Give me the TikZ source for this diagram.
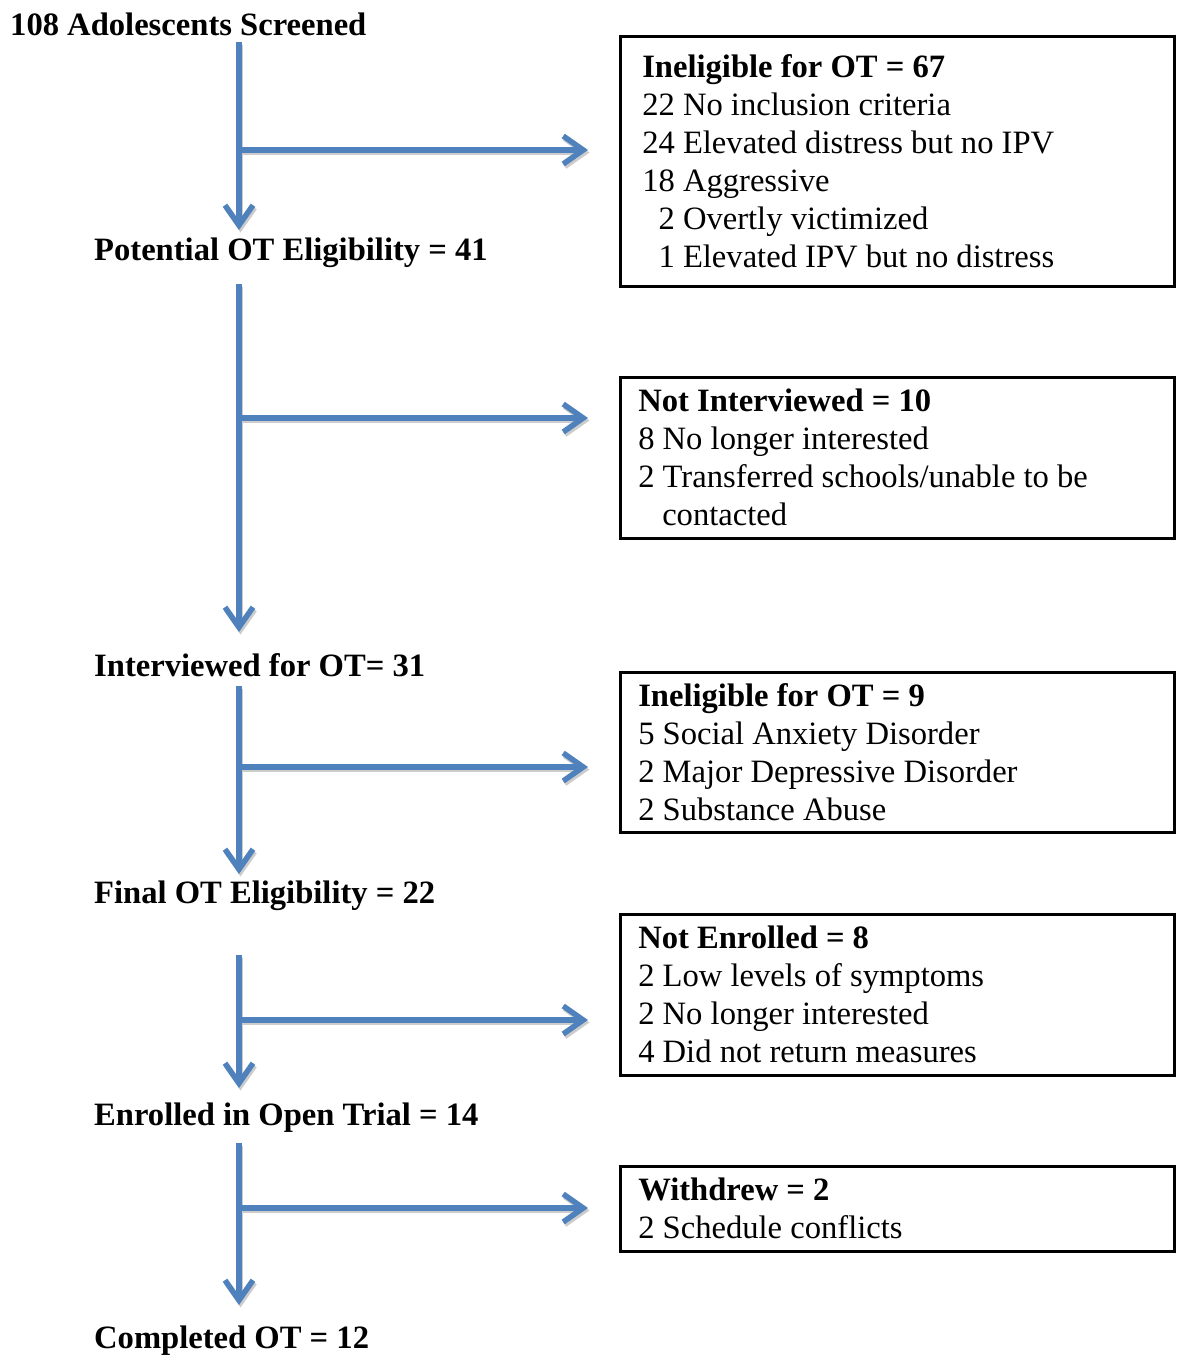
\documentclass[tikz,border=0pt]{standalone}
\usepackage{fontspec}
\setmainfont{Liberation Serif}
\usetikzlibrary{arrows.meta}
\definecolor{flowblue}{HTML}{4F81BD}
\begin{document}
\begin{tikzpicture}[x=1pt,y=-1pt,
  lbl/.style={font=\fontsize{32.6}{38}\selectfont\bfseries, inner sep=0pt, anchor=base west},
  infobox/.style={draw=black, line width=2.5pt, anchor=north west, align=flush left,
    font=\fontsize{32.6}{38}\selectfont, minimum width=554pt, inner xsep=18pt,
    text width=518pt, inner ysep=0pt},
  flow/.style={draw=flowblue, line width=5.5pt, -{Straight Barb[length=20pt,width=28pt]}},
  shade/.style={draw=black!20, line width=5.5pt, -{Straight Barb[length=20pt,width=28pt]},
    transform canvas={shift={(1.5pt,-2.5pt)}}}
]
\useasboundingbox (0,0) rectangle (1176,1355);

% labels
\node[lbl] (l1) at (10,35) {108 Adolescents Screened};
\node[lbl] (l2) at (94,260) {Potential OT Eligibility = 41};
\node[lbl] (l3) at (94,676) {Interviewed for OT= 31};
\node[lbl] (l4) at (94,903) {Final OT Eligibility = 22};
\node[lbl] (l5) at (94,1125) {Enrolled in Open Trial = 14};
\node[lbl] (l6) at (94,1348) {Completed OT = 12};

% boxes
\node[infobox, inner xsep=22pt, text width=510pt, minimum height=250pt] (b1) at (619,35)
  {\textbf{Ineligible for OT = 67}\\
   22 No inclusion criteria\\
   24 Elevated distress but no IPV\\
   18 Aggressive\\
   \phantom{1}2 Overtly victimized\\
   \phantom{1}1 Elevated IPV but no distress};
\node[infobox, minimum height=161pt] (b2) at (619,376)
  {\textbf{Not Interviewed = 10}\\
   8 No longer interested\\
   2 Transferred schools/unable to be\\
   \hspace*{24pt}contacted};
\node[infobox, minimum height=160pt] (b3) at (619,671)
  {\textbf{Ineligible for OT = 9}\\
   5 Social Anxiety Disorder\\
   2 Major Depressive Disorder\\
   2 Substance Abuse};
\node[infobox, minimum height=161pt] (b4) at (619,913)
  {\textbf{Not Enrolled = 8}\\
   2 Low levels of symptoms\\
   2 No longer interested\\
   4 Did not return measures};
\node[infobox, minimum height=85pt] (b5) at (619,1165)
  {\textbf{Withdrew = 2}\\
   2 Schedule conflicts};

% connector coordinates
\coordinate (v1s) at (239,42);   \coordinate (v1e) at (239,230);  \coordinate (h1) at (239,150);
\coordinate (v2s) at (239,284);  \coordinate (v2e) at (239,632);  \coordinate (h2) at (239,418);
\coordinate (v3s) at (239,686);  \coordinate (v3e) at (239,874);  \coordinate (h3) at (239,767);
\coordinate (v4s) at (239,955);  \coordinate (v4e) at (239,1088); \coordinate (h4) at (239,1020);
\coordinate (v5s) at (239,1143); \coordinate (v5e) at (239,1305); \coordinate (h5) at (239,1208);

\foreach \i in {1,...,5}{
  \draw[shade] (v\i s) -- (v\i e);
  \draw[shade, shorten >=31pt] (h\i) -- (h\i -| b\i.west);
}
\foreach \i in {1,...,5}{
  \draw[flow] (v\i s) -- (v\i e);
  \draw[flow, shorten >=31pt] (h\i) -- (h\i -| b\i.west);
}
\end{tikzpicture}
\end{document}
